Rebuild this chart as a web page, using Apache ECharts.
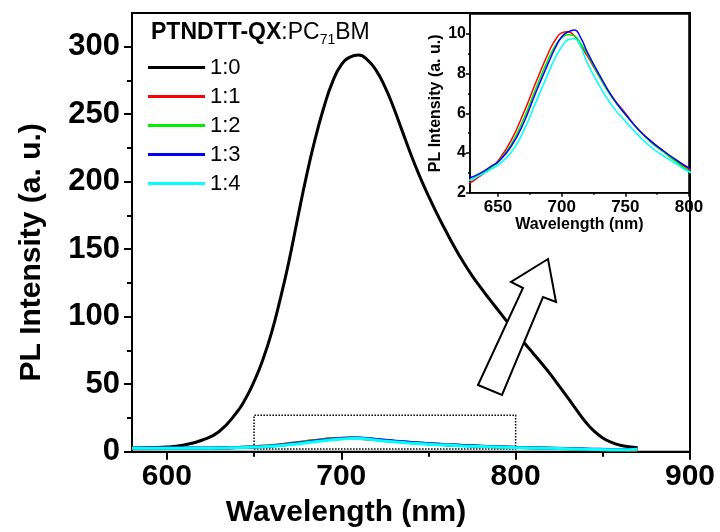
<!DOCTYPE html>
<html>
<head>
<meta charset="utf-8">
<script src="https://cdn.jsdelivr.net/npm/echarts@6/dist/echarts.min.js"></script>
<style>
  html, body { margin: 0; padding: 0; background: #fff; }
  #chart-container { width: 720px; height: 532px; }
</style>
</head>
<body>
<div id="chart-container"></div>
<script>
var dom = document.getElementById("chart-container");
var myChart = echarts.init(dom, null, { renderer: "canvas" });
var option;

// --- data ---
const seriesNames = ["1:0", "1:1", "1:2", "1:3", "1:4"];
const seriesColors = ["#000000", "#ff0000", "#00ee00", "#0000ff", "#00ffff"];

// 1:0 (pristine polymer)
const blackX = [580, 590, 600, 610, 620, 630, 640, 645, 650, 655, 660, 665, 670, 675, 680, 685, 690, 695, 700, 705, 710, 715, 720, 725, 730, 735, 740, 745, 750, 755, 760, 765, 770, 775, 780, 785, 790, 795, 800, 805, 810, 815, 820, 825, 830, 835, 840, 845, 850, 855, 860, 865, 870];
const blackY = [2.5, 3, 3.5, 5, 8.5, 15, 29, 39, 52, 68, 88, 113, 141, 173, 204, 231.5, 255, 274, 286.5, 292.3, 293.8, 290.3, 282.5, 270.5, 255, 237.5, 220, 204, 189.5, 176, 163.5, 151.5, 140.5, 130.5, 121.5, 113, 104.8, 96.5, 88.3, 80.5, 73, 65.3, 57.3, 48.6, 39.8, 30.8, 22.2, 15.2, 10.2, 6.9, 4.8, 3.6, 3];

// blends with PC71BM share one wavelength grid
const blendX = [580, 600, 625, 635, 645, 650, 660, 670, 680, 690, 695, 700, 705, 710, 715, 720, 730, 740, 750, 760, 770, 780, 790, 800, 820, 840, 860, 870];
const redY = [2.2, 2.3, 2.45, 2.8, 3.3, 3.6, 4.6, 6.0, 7.6, 9.1, 9.7, 10.05, 10.1, 9.9, 9.4, 8.9, 7.8, 6.8, 6.0, 5.2, 4.6, 4.1, 3.6, 3.2, 2.5, 1.8, 1.2, 0.8];
const greenY = [2.5, 2.55, 2.6, 2.9, 3.3, 3.55, 4.4, 5.7, 7.3, 8.8, 9.4, 9.8, 9.95, 9.9, 9.5, 9.0, 7.8, 6.75, 5.95, 5.2, 4.55, 4.05, 3.55, 3.1, 2.5, 1.9, 1.4, 1.5];
const blueY = [2.7, 2.75, 2.75, 2.95, 3.35, 3.55, 4.3, 5.5, 7.1, 8.6, 9.3, 9.85, 10.1, 10.2, 9.8, 9.1, 7.9, 6.8, 5.95, 5.2, 4.6, 4.1, 3.65, 3.25, 2.6, 2.0, 1.5, 2.0];
const cyanY = [2.5, 2.55, 2.6, 2.85, 3.2, 3.4, 4.0, 5.1, 6.6, 8.1, 8.8, 9.35, 9.7, 9.75, 9.35, 8.55, 7.35, 6.35, 5.6, 4.9, 4.3, 3.85, 3.45, 3.05, 2.5, 1.9, 1.4, 1.8];

// tick positions
const mainXTicks = [600, 700, 800, 900];
const mainXMinor = [650, 750, 850];
const mainYTicks = [0, 50, 100, 150, 200, 250, 300];
const mainYMinor = [25, 75, 125, 175, 225, 275];
const insetXTicks = [650, 700, 750, 800];
const insetXMinor = [675, 725, 775];
const insetYTicks = [2, 4, 6, 8, 10];
const insetYMinor = [3, 5, 7, 9];

// dotted box marking the zoomed region [x0, x1, y0, y1]
const zoomBox = [650, 800, 2, 27];

const font = "'Liberation Sans', Arial, sans-serif";

function pairs(xs, ys) {
  return xs.map((x, i) => [x, ys[i]]);
}

function axis(kind, grid, min, max, ticks, tickLen, width, labelSize, margin, extra) {
  const a = {
    type: "value",
    gridIndex: grid,
    min: min,
    max: max,
    position: kind === "x" ? "bottom" : "left",
    splitLine: { show: false },
    axisLine: { show: true, onZero: false, lineStyle: { color: "#000", width: width } },
    axisTick: {
      show: true,
      inside: false,
      length: tickLen,
      customValues: ticks,
      lineStyle: { color: "#000", width: width },
    },
    axisLabel: labelSize
      ? {
          customValues: ticks,
          margin: margin,
          color: "#000",
          fontSize: labelSize,
          fontWeight: "bold",
          fontFamily: font,
        }
      : { show: false },
  };
  return Object.assign(a, extra || {});
}

const blendYs = [redY, greenY, blueY, cyanY];

const series = [
  {
    name: seriesNames[0],
    type: "line",
    xAxisIndex: 0,
    yAxisIndex: 0,
    data: pairs(blackX, blackY),
    smooth: true,
    showSymbol: false,
    lineStyle: { color: seriesColors[0], width: 3 },
    itemStyle: { color: seriesColors[0] },
    markArea: {
      silent: true,
      itemStyle: {
        color: "rgba(0,0,0,0)",
        borderColor: "#000",
        borderWidth: 1.5,
        borderType: "dotted",
      },
      data: [[{ coord: [zoomBox[0], zoomBox[2]] }, { coord: [zoomBox[1], zoomBox[3]] }]],
    },
  },
];

// main panel copies
blendYs.forEach((ys, i) => {
  series.push({
    name: seriesNames[i + 1],
    type: "line",
    xAxisIndex: 0,
    yAxisIndex: 0,
    data: pairs(blendX, ys),
    smooth: true,
    showSymbol: false,
    lineStyle: { color: seriesColors[i + 1], width: 3 },
    itemStyle: { color: seriesColors[i + 1] },
  });
});

// inset copies
blendYs.forEach((ys, i) => {
  series.push({
    name: seriesNames[i + 1],
    type: "line",
    xAxisIndex: 2,
    yAxisIndex: 2,
    data: pairs(blendX, ys),
    smooth: true,
    showSymbol: false,
    clip: true,
    lineStyle: { color: seriesColors[i + 1], width: 1.5 },
    itemStyle: { color: seriesColors[i + 1] },
  });
});

const nameStyle = (size, pad) => ({
  color: "#000",
  fontSize: size,
  fontWeight: "bold",
  fontFamily: font,
  padding: pad || 0,
});

option = {
  animation: false,
  backgroundColor: "#fff",
  title: {
    text: "{b|PTNDTT-QX}{n|:PC}{s|71}{n|BM}",
    left: 151,
    top: 21,
    padding: 0,
    textStyle: {
      rich: {
        b: { fontFamily: font, fontWeight: "bold", fontSize: 23, color: "#000", lineHeight: 26, verticalAlign: "top" },
        n: { fontFamily: font, fontWeight: "normal", fontSize: 23, color: "#000", lineHeight: 26, verticalAlign: "top" },
        s: { fontFamily: font, fontWeight: "normal", fontSize: 14, color: "#000", lineHeight: 14, verticalAlign: "top", padding: [12, 0, 0, 0] },
      },
    },
  },
  legend: {
    data: seriesNames,
    orient: "vertical",
    left: 148,
    top: 56,
    padding: 0,
    icon: "rect",
    itemWidth: 57,
    itemHeight: 3,
    itemGap: 6,
    textStyle: { color: "#000", fontSize: 22, lineHeight: 23, fontFamily: font },
  },
  grid: [
    {
      left: 132, top: 13, width: 558, height: 438.7,
      show: true, borderColor: "#000", borderWidth: 2,
      backgroundColor: "rgba(0,0,0,0)",
      outerBoundsMode: "none",
    },
    {
      left: 470, top: 14, width: 219, height: 178.7,
      show: true, borderColor: "#000", borderWidth: 1.5,
      backgroundColor: "#fff",
      outerBoundsMode: "none",
    },
  ],
  xAxis: [
    axis("x", 0, 580, 900, mainXTicks, 8, 2, 30, 10, {
      name: "Wavelength (nm)",
      nameLocation: "middle",
      nameGap: 46,
      nameTextStyle: nameStyle(30, [0, 130, 0, 0]),
    }),
    axis("x", 0, 580, 900, mainXMinor, 5, 2, 0, 0, { axisLine: { show: false } }),
    axis("x", 1, 628, 800, insetXTicks, 4, 1.5, 17, 6, {
      name: "Wavelength (nm)",
      nameLocation: "middle",
      nameGap: 22,
      nameTextStyle: nameStyle(16),
    }),
    axis("x", 1, 628, 800, insetXMinor, 2, 1.5, 0, 0, { axisLine: { show: false } }),
  ],
  yAxis: [
    axis("y", 0, 0, 325, mainYTicks, 8, 2, 31, 12, {
      name: "PL Intensity (a. u.)",
      nameLocation: "middle",
      nameRotate: 90,
      nameGap: 85,
      nameTextStyle: nameStyle(30, [0, 40, 0, 0]),
    }),
    axis("y", 0, 0, 325, mainYMinor, 5, 2, 0, 0, { axisLine: { show: false } }),
    axis("y", 1, 2, 11, insetYTicks, 4, 1.5, 16, 4, {
      name: "PL Intensity (a. u.)",
      nameLocation: "middle",
      nameRotate: 90,
      nameGap: 26,
      nameTextStyle: nameStyle(16),
    }),
    axis("y", 1, 2, 11, insetYMinor, 2, 1.5, 0, 0, { axisLine: { show: false } }),
  ],
  graphic: [
    {
      // block arrow pointing at the inset
      type: "polygon",
      z: 100,
      shape: {
        points: [[478, 385], [502, 395], [543, 297], [556, 302], [548, 259], [511, 282], [523, 288]],
      },
      style: { fill: "#fff", stroke: "#000", lineWidth: 2 },
    },
  ],
  series: series,
};

if (option && typeof option === "object") {
  myChart.setOption(option);
}

window.addEventListener("resize", myChart.resize);
</script>
</body>
</html>
